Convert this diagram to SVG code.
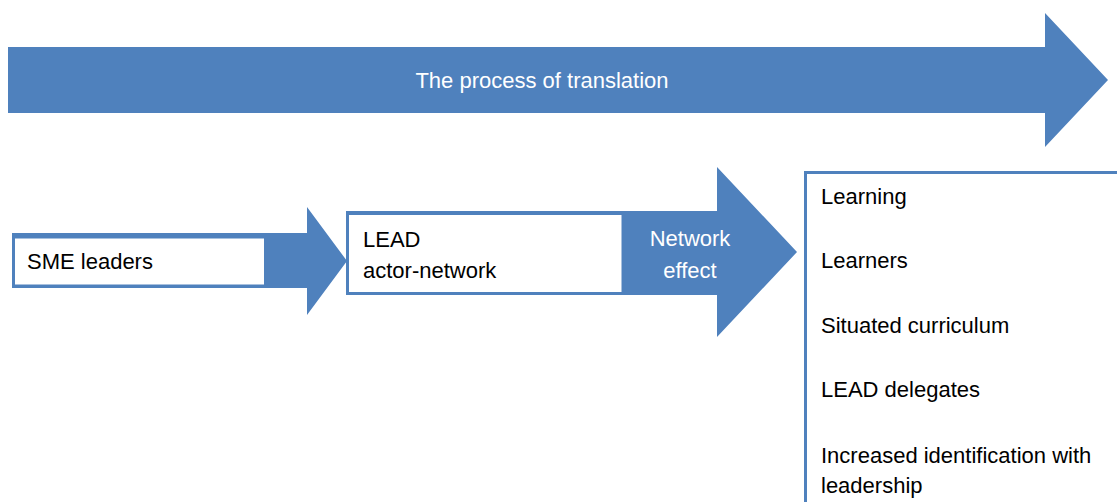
<svg xmlns="http://www.w3.org/2000/svg" width="1117" height="502" viewBox="0 0 1117 502">
<style>
.blk{fill:#4F81BD;stroke:none}
.box{fill:#FFFFFF;stroke:#4F81BD;stroke-width:3}
text{font-family:"Liberation Sans",Arial,sans-serif;font-size:22px}
.dark{fill:#000000}
.light{fill:#FFFFFF}
</style>
<rect width="1117" height="502" fill="#FFFFFF"/>
<g id="process-of-translation">
<path class="blk" d="M8,47 H1045 V13 L1108,80 L1045,147 V113 H8 Z"/>
<text class="light" x="542" y="88" text-anchor="middle">The process of translation</text>
</g>
<g id="connectors">
<path class="blk" d="M12,233 H307 V207 L347,261 L307,315 V288 H12 Z"/>
<path class="blk" d="M346,211 H717 V167 L797,252 L717,337 V295 H346 Z"/>
</g>
<g id="sme-leaders">
<rect class="box" x="13.5" y="237" width="252" height="49"/>
<text class="dark" x="27" y="269">SME leaders</text>
</g>
<g id="lead-actor-network">
<rect class="box" x="347.5" y="213.5" width="275.5" height="80"/>
<text class="dark" x="363" y="247">LEAD</text>
<text class="dark" x="363" y="278">actor-network</text>
</g>
<g id="network-effect">
<text class="light" x="690" y="246" text-anchor="middle">Network</text>
<text class="light" x="690" y="278" text-anchor="middle">effect</text>
</g>
<g id="outcomes">
<rect class="box" x="805.5" y="172.5" width="400" height="400"/>
<text class="dark" x="821" y="204">Learning</text>
<text class="dark" x="821" y="268">Learners</text>
<text class="dark" x="821" y="333">Situated curriculum</text>
<text class="dark" x="821" y="397">LEAD delegates</text>
<text class="dark" x="821" y="463">Increased identification with</text>
<text class="dark" x="821" y="493">leadership</text>
</g>
</svg>
